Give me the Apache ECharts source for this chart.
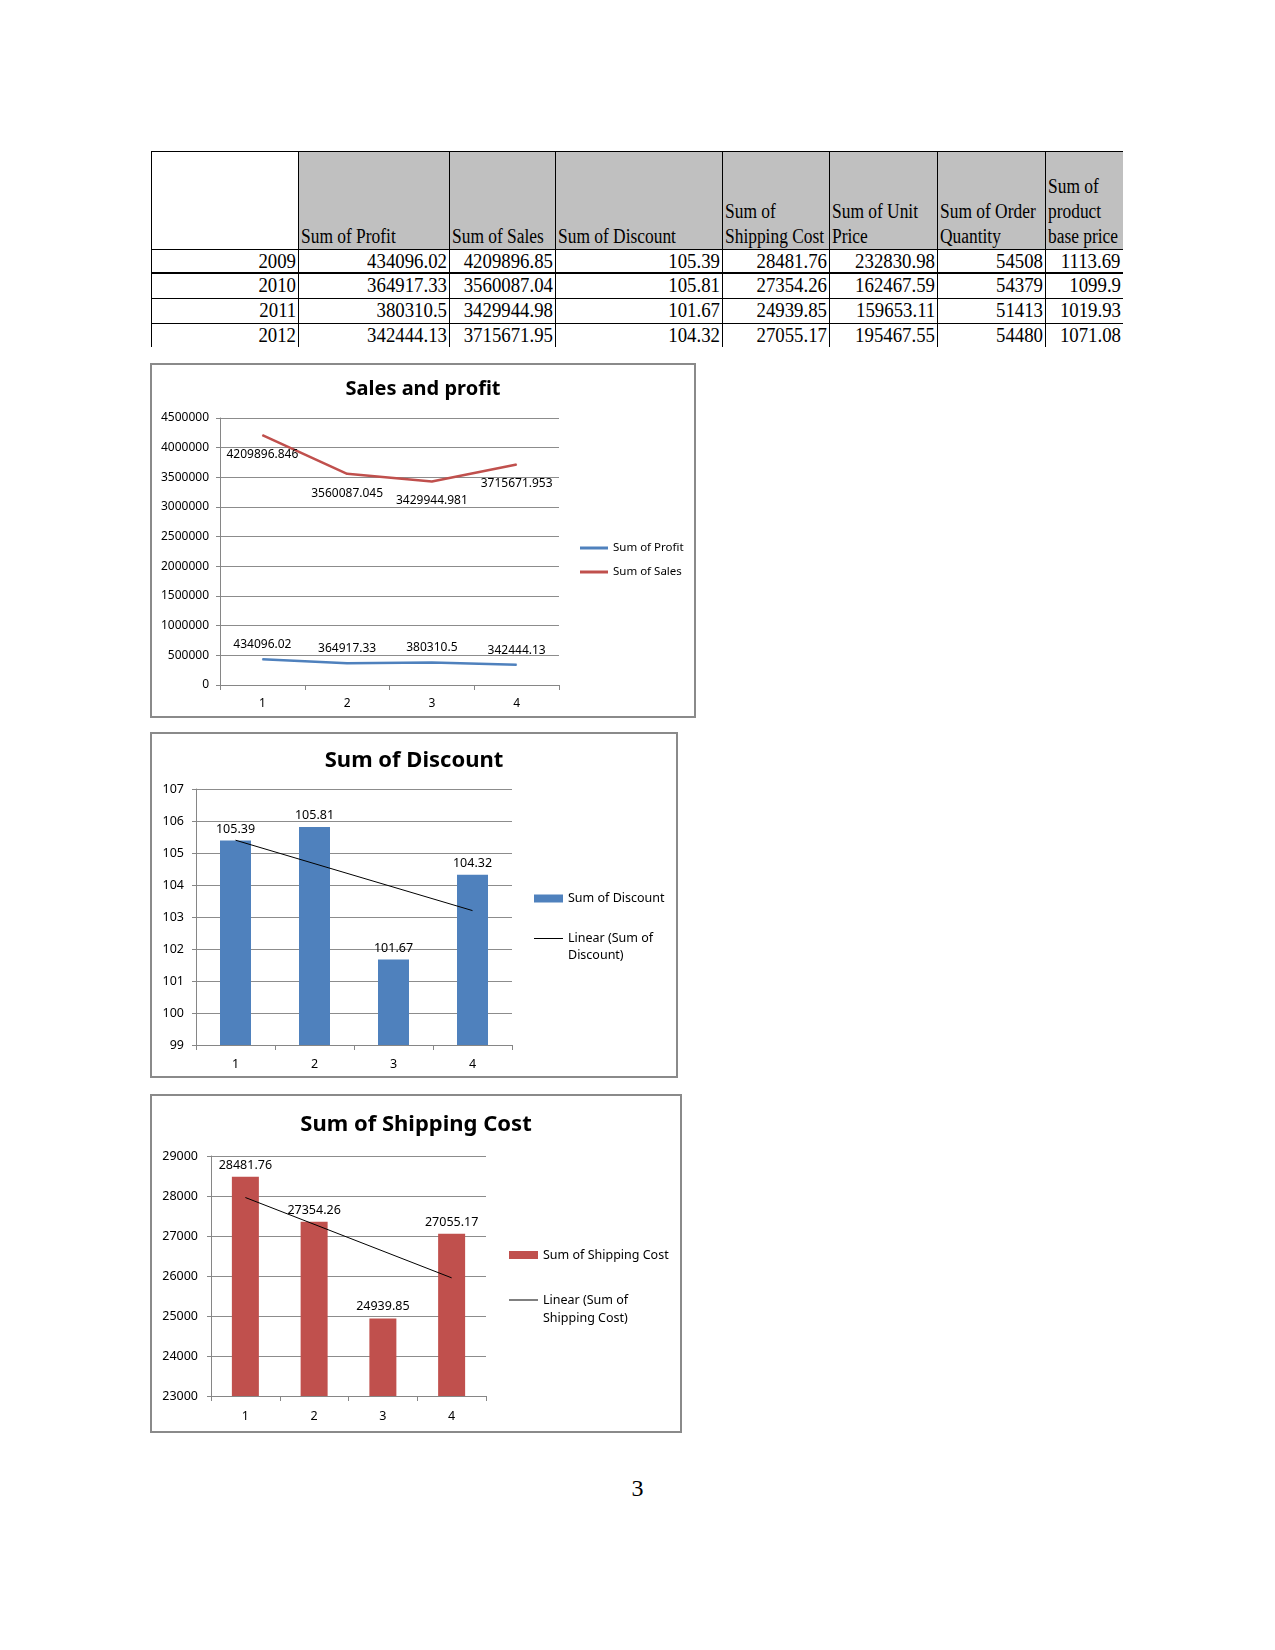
<!DOCTYPE html>
<html>
<head>
<meta charset="utf-8">
<script src="https://cdn.jsdelivr.net/npm/echarts@6/dist/echarts.min.js"></script>
<style>
body { margin: 0; background: #fff; width: 1275px; height: 1650px; position: relative; overflow: hidden; }
#tbl { position: absolute; left: 0; top: 0; font-family: "Liberation Serif", serif; font-size: 20px; color: #000; }
.cell { position: absolute; box-sizing: border-box; white-space: nowrap; }
.hdr { background: #c0c0c0; display: flex; flex-direction: column; justify-content: flex-end; padding-left: 2px; line-height: 25px; }
.hdr span { display: inline-block; transform: scaleX(0.87); transform-origin: left center; }
.num { text-align: right; padding-right: 2px; }
.num span { display: inline-block; transform: scaleX(0.94); transform-origin: right center; }
.ln { position: absolute; background: #000; }
.chart { position: absolute; }
.frame { position: absolute; box-sizing: border-box; border: 2px solid #8a8a8a; pointer-events: none; }
#page { position: absolute; left: 0; width: 1275px; top: 1475px; text-align: center; font-family: "Liberation Serif", serif; font-size: 24px; }
</style>
</head>
<body>
<div id="tbl"></div>

<div id="c1" class="chart" style="left:150px;top:363px;width:546px;height:355px"></div>
<div class="frame" style="left:150px;top:363px;width:546px;height:355px"></div>

<div id="c2" class="chart" style="left:150px;top:732px;width:528px;height:346px"></div>
<div class="frame" style="left:150px;top:732px;width:528px;height:346px"></div>

<div id="c3" class="chart" style="left:150px;top:1094px;width:532px;height:339px"></div>
<div class="frame" style="left:150px;top:1094px;width:532px;height:339px"></div>

<div id="page">3</div>

<script>
// 数据
const years = ["2009", "2010", "2011", "2012"];
const headers = [
  ["Sum of Profit"],
  ["Sum of Sales"],
  ["Sum of Discount"],
  ["Sum of", "Shipping Cost"],
  ["Sum of Unit", "Price"],
  ["Sum of Order", "Quantity"],
  ["Sum of", "product", "base price"]
];
const profit = [434096.02, 364917.33, 380310.5, 342444.13];
const sales = [4209896.846, 3560087.0449, 3429944.981, 3715671.953];
const discount = [105.39, 105.81, 101.67, 104.32];
const shipping = [28481.76, 27354.26, 24939.85, 27055.17];
const unitPrice = [232830.98, 162467.59, 159653.11, 195467.55];
const orderQty = [54508, 54379, 51413, 54480];
const basePrice = [1113.69, 1099.9, 1019.93, 1071.08];
const categories = ["1", "2", "3", "4"];
// 趋势线两端
const discountTrend = [105.40, null, null, 103.20];
const shippingTrend = [27962, null, null, 25954];

// 表格
const colX = [151, 298, 449, 555, 722, 829, 937, 1045, 1123];
const rowY = [151, 249, 273, 298, 323, 347];
const tbl = document.getElementById("tbl");

function addDiv(cls, l, t, w, h, html) {
  const d = document.createElement("div");
  d.className = cls;
  d.style.left = l + "px";
  d.style.top = t + "px";
  d.style.width = w + "px";
  d.style.height = h + "px";
  if (html) d.innerHTML = html;
  tbl.appendChild(d);
  return d;
}

headers.forEach((lines, i) => {
  const x0 = colX[i + 1], x1 = colX[i + 2];
  addDiv("cell hdr", x0 + 1, rowY[0] + 1, x1 - x0 - 1, rowY[1] - rowY[0] - 1,
    lines.map(s => "<div><span>" + s + "</span></div>").join(""));
});

const tableCols = [
  years,
  profit.map(String),
  sales.map(v => v.toFixed(2)),
  discount.map(String),
  shipping.map(String),
  unitPrice.map(String),
  orderQty.map(String),
  basePrice.map(String)
];
tableCols.forEach((col, c) => {
  col.forEach((txt, r) => {
    const h = rowY[r + 2] - rowY[r + 1];
    const d = addDiv("cell num", colX[c], rowY[r + 1], colX[c + 1] - colX[c], h, "<span>" + txt + "</span>");
    d.style.lineHeight = h + "px";
  });
});

// 表格线
addDiv("ln", colX[0], rowY[0], colX[8] - colX[0], 1);
for (let i = 1; i <= 4; i++) {
  const thick = i === 2 ? 2 : 1;
  addDiv("ln", colX[0], rowY[i] - (thick - 1), colX[8] - colX[0], thick);
}
for (let i = 0; i < 8; i++) {
  addDiv("ln", colX[i], rowY[0], 1, rowY[5] - rowY[0]);
}

const FONT = "Noto Sans";
const gridLine = { lineStyle: { color: "#8c8c8c", width: 1 } };
const axisLine = { show: true, lineStyle: { color: "#868686", width: 1 } };

function titleOpt(text, top, size) {
  return {
    text: text,
    left: "center",
    top: top,
    padding: 0,
    textStyle: { fontFamily: FONT, fontWeight: "bold", fontSize: size, color: "#000" }
  };
}

// 图1 Sales and profit
const c1 = echarts.init(document.getElementById("c1"));
c1.setOption({
  animation: false,
  title: titleOpt("Sales and profit", 16, 20),
  grid: { left: 70, right: 137, top: 55, bottom: 33 },
  legend: {
    orient: "vertical",
    left: 430,
    top: 178,
    padding: 0,
    icon: "rect",
    itemWidth: 28,
    itemHeight: 3,
    itemGap: 10,
    textStyle: { fontFamily: FONT, fontSize: 11.5, color: "#000", lineHeight: 14 },
    data: ["Sum of Profit", "Sum of Sales"]
  },
  xAxis: {
    type: "category",
    data: categories,
    axisLine: axisLine,
    axisTick: { show: true, length: 5, lineStyle: { color: "#868686" } },
    axisLabel: { fontFamily: FONT, fontSize: 12, color: "#000", margin: 13 }
  },
  yAxis: {
    type: "value",
    min: 0,
    max: 4500000,
    interval: 500000,
    axisLine: axisLine,
    axisTick: { show: true, length: 4, lineStyle: { color: "#868686" } },
    splitLine: gridLine,
    axisLabel: { fontFamily: FONT, fontSize: 12, color: "#000", margin: 11, formatter: v => String(v) }
  },
  series: [
    {
      name: "Sum of Profit",
      type: "line",
      data: profit,
      symbol: "circle",
      symbolSize: 1,
      showSymbol: true,
      lineStyle: { color: "#4f81bd", width: 2.5 },
      itemStyle: { color: "#4f81bd" },
      label: { show: true, position: "top", distance: 8, fontFamily: FONT, fontSize: 12, color: "#000", formatter: p => String(p.value) }
    },
    {
      name: "Sum of Sales",
      type: "line",
      data: sales,
      symbol: "circle",
      symbolSize: 1,
      showSymbol: true,
      lineStyle: { color: "#c0504d", width: 2.5 },
      itemStyle: { color: "#c0504d" },
      label: { show: true, position: "bottom", distance: 13, fontFamily: FONT, fontSize: 12, color: "#000", formatter: p => p.value.toFixed(3) }
    }
  ]
});

// 柱图 + 趋势线
function barChart(dom, o) {
  const chart = echarts.init(document.getElementById(dom));
  chart.setOption({
    animation: false,
    title: titleOpt(o.title, o.titleTop, o.titleSize),
    grid: o.grid,
    legend: [
      {
        left: o.legendLeft,
        top: o.legendTop1,
        padding: 0,
        icon: "rect",
        itemWidth: 29,
        itemHeight: 8,
        textStyle: { fontFamily: FONT, fontSize: 12.5, color: "#000", lineHeight: o.lh },
        data: [o.name]
      },
      {
        left: o.legendLeft,
        top: o.legendTop2,
        padding: 0,
        icon: "rect",
        itemWidth: 29,
        itemHeight: 1,
        textStyle: { fontFamily: FONT, fontSize: 12.5, color: "#000", lineHeight: o.lh },
        formatter: () => "\n" + o.trendText,
        data: ["Linear (" + o.name + ")"]
      }
    ],
    xAxis: {
      type: "category",
      data: categories,
      axisLine: axisLine,
      axisTick: { show: true, length: 5, lineStyle: { color: "#868686" } },
      axisLabel: { fontFamily: FONT, fontSize: 12.5, color: "#000", margin: o.xMargin }
    },
    yAxis: {
      type: "value",
      min: o.min,
      max: o.max,
      interval: o.interval,
      axisLine: axisLine,
      axisTick: { show: true, length: 4, lineStyle: { color: "#868686" } },
      splitLine: gridLine,
      axisLabel: { fontFamily: FONT, fontSize: 12.5, color: "#000", margin: o.yMargin, formatter: v => String(v) }
    },
    series: [
      {
        name: o.name,
        type: "bar",
        data: o.data,
        barWidth: o.barWidth,
        itemStyle: { color: o.color },
        label: { show: true, position: "top", distance: 5, fontFamily: FONT, fontSize: 12.5, color: "#000", formatter: p => String(p.value) }
      },
      {
        name: "Linear (" + o.name + ")",
        type: "line",
        data: o.trend,
        connectNulls: true,
        symbol: "none",
        lineStyle: { color: "#000", width: 1 },
        itemStyle: { color: "#000" }
      }
    ]
  });
  return chart;
}

barChart("c2", {
  title: "Sum of Discount",
  titleTop: 18,
  titleSize: 22,
  grid: { left: 46, right: 166, top: 57, bottom: 33 },
  legendLeft: 384,
  legendTop1: 158,
  legendTop2: 181,
  lh: 17,
  name: "Sum of Discount",
  trendText: "Linear (Sum of\nDiscount)",
  data: discount,
  trend: discountTrend,
  min: 99,
  max: 107,
  interval: 1,
  barWidth: 31,
  color: "#4f81bd",
  xMargin: 13,
  yMargin: 12
});

barChart("c3", {
  title: "Sum of Shipping Cost",
  titleTop: 20,
  titleSize: 22,
  grid: { left: 61, right: 196, top: 62, bottom: 37 },
  legendLeft: 359,
  legendTop1: 152,
  legendTop2: 179,
  lh: 18,
  name: "Sum of Shipping Cost",
  trendText: "Linear (Sum of\nShipping Cost)",
  data: shipping,
  trend: shippingTrend,
  min: 23000,
  max: 29000,
  interval: 1000,
  barWidth: 27,
  color: "#c0504d",
  xMargin: 14,
  yMargin: 13
});
</script>
</body>
</html>
